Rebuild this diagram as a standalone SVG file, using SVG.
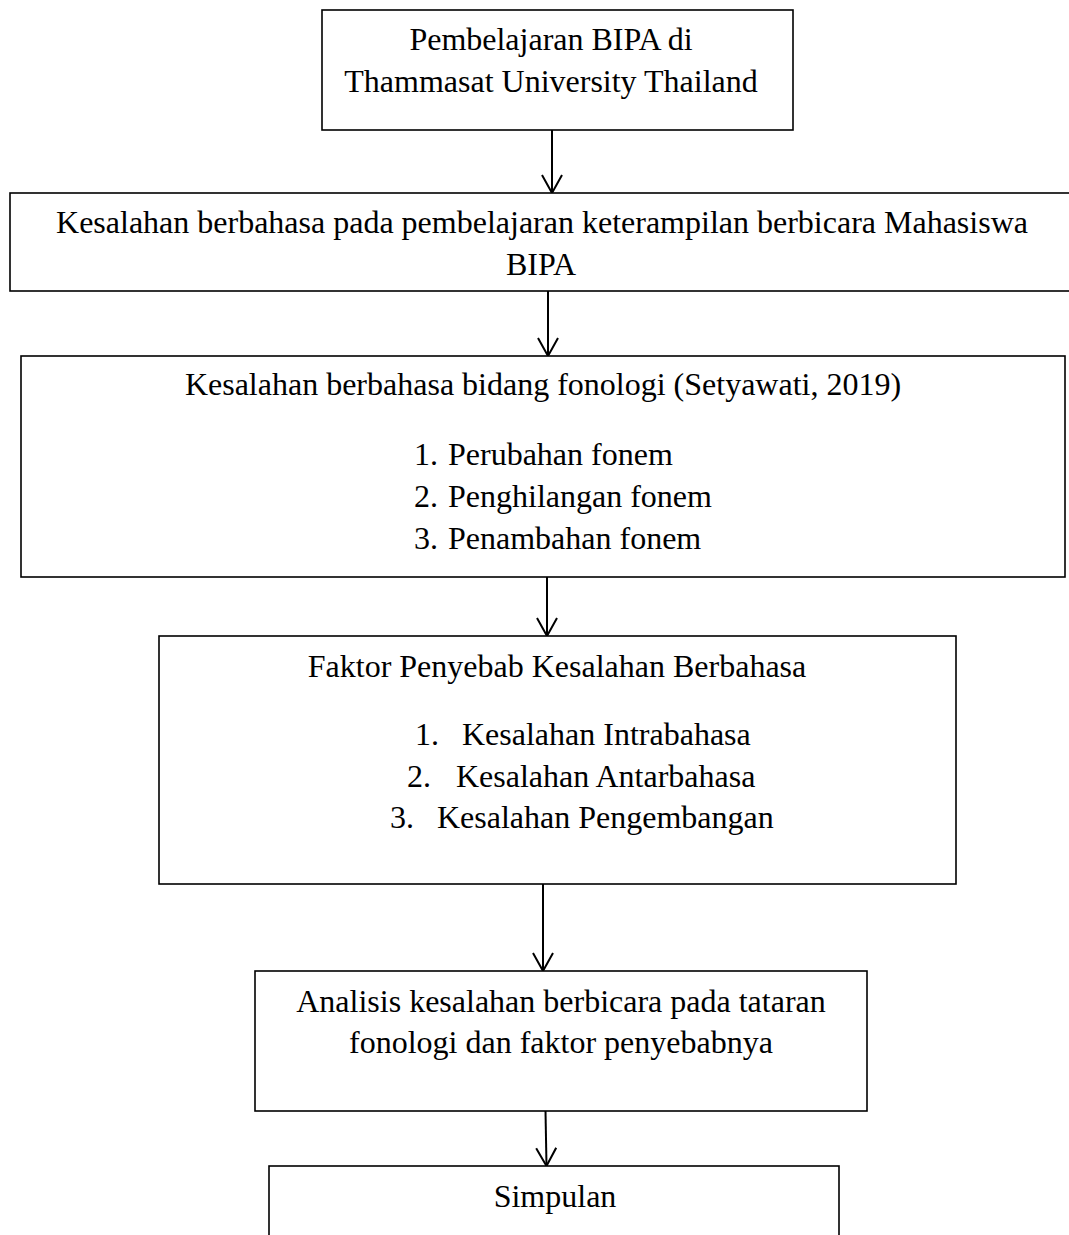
<svg xmlns="http://www.w3.org/2000/svg" width="1069" height="1235" viewBox="0 0 1069 1235">
<style>
.box{fill:#fff;stroke:#000;stroke-width:1.6}
.t{font-family:"Liberation Serif","Times New Roman",serif;font-size:32px;fill:#000}
.c{text-anchor:middle}
.edge{stroke:#000;stroke-width:2;fill:none}
</style>
<defs>
<marker id="arr" viewBox="0 0 20 22" refX="19" refY="11" markerWidth="20" markerHeight="22" markerUnits="userSpaceOnUse" orient="auto">
<path d="M1,1 L19,11 L1,21" fill="none" stroke="#000" stroke-width="2"/>
</marker>
</defs>
<rect width="1069" height="1235" fill="#fff"/>
<g id="connectors">
<line class="edge" x1="552" y1="130" x2="552" y2="193" marker-end="url(#arr)"/>
<line class="edge" x1="548" y1="291" x2="548" y2="356" marker-end="url(#arr)"/>
<line class="edge" x1="547" y1="577" x2="547" y2="636" marker-end="url(#arr)"/>
<line class="edge" x1="543" y1="884" x2="543" y2="971" marker-end="url(#arr)"/>
<line class="edge" x1="545.5" y1="1111" x2="546.5" y2="1166" marker-end="url(#arr)"/>
</g>
<g id="node1">
<rect class="box" x="322" y="10" width="471" height="120"/>
<text class="t c" x="551" y="50">Pembelajaran BIPA di</text>
<text class="t c" x="551" y="92">Thammasat University Thailand</text>
</g>
<g id="node2">
<rect class="box" x="10" y="193" width="1070" height="98"/>
<text class="t c" x="542" y="233">Kesalahan berbahasa pada pembelajaran keterampilan berbicara Mahasiswa</text>
<text class="t c" x="541" y="275">BIPA</text>
</g>
<g id="node3">
<rect class="box" x="21" y="356" width="1044" height="221"/>
<text class="t c" x="543" y="395">Kesalahan berbahasa bidang fonologi (Setyawati, 2019)</text>
<text class="t" x="414" y="465">1.</text><text class="t" x="448" y="465">Perubahan fonem</text>
<text class="t" x="414" y="507">2.</text><text class="t" x="448" y="507">Penghilangan fonem</text>
<text class="t" x="414" y="549">3.</text><text class="t" x="448" y="549">Penambahan fonem</text>
</g>
<g id="node4">
<rect class="box" x="159" y="636" width="797" height="248"/>
<text class="t c" x="557" y="677">Faktor Penyebab Kesalahan Berbahasa</text>
<text class="t" x="415" y="745">1.</text><text class="t" x="462" y="745">Kesalahan Intrabahasa</text>
<text class="t" x="407" y="787">2.</text><text class="t" x="456" y="787">Kesalahan Antarbahasa</text>
<text class="t" x="390" y="828">3.</text><text class="t" x="437" y="828">Kesalahan Pengembangan</text>
</g>
<g id="node5">
<rect class="box" x="255" y="971" width="612" height="140"/>
<text class="t c" x="561" y="1012">Analisis kesalahan berbicara pada tataran</text>
<text class="t c" x="561" y="1053">fonologi dan faktor penyebabnya</text>
</g>
<g id="node6">
<rect class="box" x="269" y="1166" width="570" height="90"/>
<text class="t c" x="555" y="1207">Simpulan</text>
</g>
</svg>
